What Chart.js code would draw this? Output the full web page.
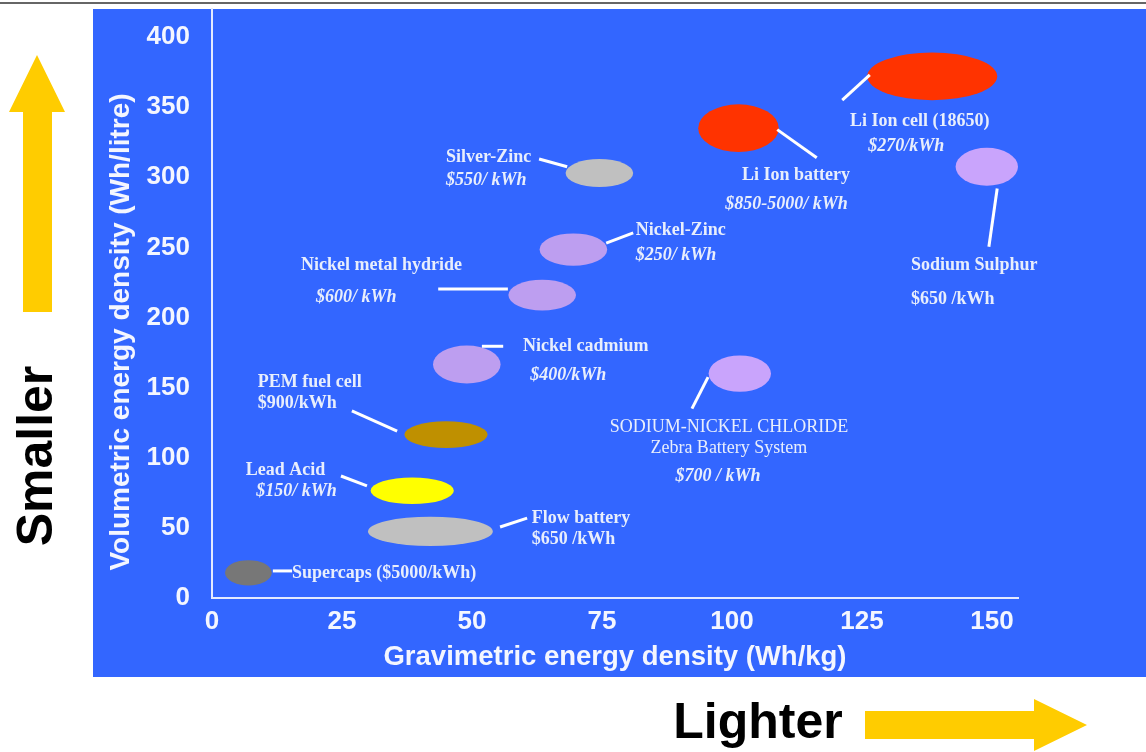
<!DOCTYPE html>
<html lang="en">
<head>
<meta charset="UTF-8">
<title>Energy density of storage technologies</title>
<style>
  html, body { margin: 0; padding: 0; background: #fff; }
</style>
</head>
<body>
<canvas id="densityChart" width="1146" height="752"></canvas>
<script src="https://cdn.jsdelivr.net/npm/chart.js"></script>
<script>
// each technology covers a range of gravimetric (Wh/kg) and volumetric (Wh/litre) density
const technologies = ['Supercaps', 'Flow battery', 'Lead Acid', 'PEM fuel cell', 'Nickel cadmium',
  'Sodium-nickel chloride', 'Nickel metal hydride', 'Nickel-Zinc', 'Silver-Zinc',
  'Li Ion battery', 'Sodium Sulphur', 'Li Ion cell (18650)'];
const gravMin = [2.5, 30, 30.5, 37, 42.5, 95.5, 57, 63, 68, 93.5, 143, 126];
const gravMax = [11.5, 54, 46.5, 53, 55.5, 107.5, 70, 76, 81, 109, 155, 151];
const volMin = [9, 37, 67, 107, 153, 147, 205, 237, 293, 318, 294, 355];
const volMax = [27, 58, 86, 126, 180, 173, 227, 260, 313, 352, 321, 389];
const xTicks = [0, 25, 50, 75, 100, 125, 150];
const yTicks = [0, 50, 100, 150, 200, 250, 300, 350, 400];

const fills = ['#777777', '#c0c0c0', '#ffff00', '#bf9000', '#bd9ef0',
  '#c9a4fc', '#bd9ef0', '#bd9ef0', '#c0c0c0', '#ff3300', '#c9a4fc', '#ff3300'];

// callout text, placed in axis units; s = style (b bold, bi bold italic, r regular)
const notes = [
  { t: 'Li Ion cell (18650)', x: 122.7, y: 340, s: 'b' },
  { t: '$270/kWh', x: 126.2, y: 322, s: 'bi' },
  { t: 'Li Ion battery', x: 101.9, y: 301.5, s: 'b' },
  { t: '$850-5000/ kWh', x: 98.7, y: 281, s: 'bi' },
  { t: 'Sodium Sulphur', x: 134.4, y: 237, s: 'b' },
  { t: '$650 /kWh', x: 134.4, y: 213, s: 'b' },
  { t: 'Silver-Zinc', x: 45, y: 314, s: 'b' },
  { t: '$550/ kWh', x: 45, y: 297.5, s: 'bi' },
  { t: 'Nickel-Zinc', x: 81.5, y: 262.5, s: 'b' },
  { t: '$250/ kWh', x: 81.5, y: 244, s: 'bi' },
  { t: 'Nickel metal hydride', x: 17.1, y: 237, s: 'b' },
  { t: '$600/ kWh', x: 20, y: 214.5, s: 'bi' },
  { t: 'Nickel cadmium', x: 59.8, y: 179.5, s: 'b' },
  { t: '$400/kWh', x: 61.2, y: 158.5, s: 'bi' },
  { t: 'SODIUM-NICKEL CHLORIDE', x: 99.4, y: 122, s: 'r', c: true },
  { t: 'Zebra Battery System', x: 99.4, y: 107, s: 'r', c: true },
  { t: '$700 / kWh', x: 97.3, y: 87, s: 'bi', c: true },
  { t: 'PEM fuel cell', x: 8.8, y: 154, s: 'b' },
  { t: '$900/kWh', x: 8.8, y: 138.5, s: 'b' },
  { t: 'Lead Acid', x: 6.5, y: 91.3, s: 'b' },
  { t: '$150/ kWh', x: 8.5, y: 76.3, s: 'bi' },
  { t: 'Flow battery', x: 61.5, y: 57, s: 'b' },
  { t: '$650 /kWh', x: 61.5, y: 41.5, s: 'b' },
  { t: 'Supercaps ($5000/kWh)', x: 15.4, y: 17.8, s: 'b' }
];

// leader lines from the ellipses to their callouts
const leaders = [
  [121.2, 355, 126.5, 373], [108.7, 334, 116.3, 314], [151, 292, 149.4, 250.5],
  [62.9, 313, 68.3, 307.5], [75.8, 253, 81, 260.3], [43.5, 220.4, 56.9, 220.4],
  [51.9, 179.5, 56, 179.5], [92.3, 135, 95.4, 157.5], [26.9, 133.5, 35.6, 119],
  [24.8, 87, 29.8, 80], [55.4, 50.6, 60.6, 57], [11.7, 19.3, 15.4, 19.3]
];

const fontFor = { b: 'bold 18px "Liberation Serif"', bi: 'italic bold 18px "Liberation Serif"', r: '18px "Liberation Serif"' };

function arrow(ctx, pts) {
  ctx.beginPath();
  ctx.moveTo(pts[0][0], pts[0][1]);
  for (let i = 1; i < pts.length; i++) ctx.lineTo(pts[i][0], pts[i][1]);
  ctx.closePath();
  ctx.fill();
}

// blue panel, the two direction arrows and their words
const backdrop = {
  id: 'backdrop',
  beforeDraw(chart) {
    const { ctx, chartArea, scales } = chart;
    ctx.save();
    ctx.fillStyle = '#ffffff';
    ctx.fillRect(0, 0, chart.width, chart.height);
    ctx.fillStyle = '#3366ff';
    ctx.fillRect(scales.y.left, chartArea.top, chart.width - scales.y.left, scales.x.bottom - chartArea.top);
    ctx.fillStyle = '#666666';
    ctx.fillRect(0, 2, chart.width, 2);

    ctx.fillStyle = '#ffcc00';
    arrow(ctx, [[37, 55], [65, 112], [52, 112], [52, 312], [23, 312], [23, 112], [9, 112]]);
    arrow(ctx, [[865, 711], [1034, 711], [1034, 699], [1087, 725], [1034, 751], [1034, 739], [865, 739]]);

    ctx.fillStyle = '#000000';
    ctx.font = 'bold 50px "Liberation Sans"';
    ctx.textBaseline = 'middle';
    ctx.textAlign = 'center';
    ctx.fillText('Lighter', 758, 724);
    ctx.save();
    ctx.translate(38, 456);
    ctx.rotate(-Math.PI / 2);
    ctx.fillText('Smaller', 0, 0);
    ctx.restore();

    // y axis title sits a little above the middle of the axis
    ctx.fillStyle = '#f4f6ff';
    ctx.font = 'bold 28px "Liberation Sans"';
    ctx.translate(scales.y.left + 28, 332);
    ctx.rotate(-Math.PI / 2);
    ctx.fillText('Volumetric energy density (Wh/litre)', 0, 0);
    ctx.restore();
  }
};

// ellipses spanning each density range, then leader lines and callouts
const ranges = {
  id: 'ranges',
  afterDatasetsDraw(chart) {
    const { ctx, scales: { x, y } } = chart;
    const pts = chart.data.datasets[0].data;
    ctx.save();
    pts.forEach((p, i) => {
      const x0 = x.getPixelForValue(p.xMin), x1 = x.getPixelForValue(p.xMax);
      const y0 = y.getPixelForValue(p.yMin), y1 = y.getPixelForValue(p.yMax);
      ctx.beginPath();
      ctx.ellipse((x0 + x1) / 2, (y0 + y1) / 2, Math.abs(x1 - x0) / 2, Math.abs(y1 - y0) / 2, 0, 0, Math.PI * 2);
      ctx.fillStyle = fills[i];
      ctx.fill();
    });

    ctx.strokeStyle = '#ffffff';
    ctx.lineWidth = 3;
    leaders.forEach(l => {
      ctx.beginPath();
      ctx.moveTo(x.getPixelForValue(l[0]), y.getPixelForValue(l[1]));
      ctx.lineTo(x.getPixelForValue(l[2]), y.getPixelForValue(l[3]));
      ctx.stroke();
    });

    ctx.fillStyle = '#e8eefc';
    ctx.textBaseline = 'middle';
    notes.forEach(n => {
      ctx.font = fontFor[n.s];
      ctx.textAlign = n.c ? 'center' : 'left';
      ctx.fillText(n.t, x.getPixelForValue(n.x), y.getPixelForValue(n.y));
    });
    ctx.restore();
  }
};

const axisFont = { family: 'Liberation Sans', weight: 'bold', size: 26 };

new Chart(document.getElementById('densityChart'), {
  type: 'scatter',
  data: {
    datasets: [{
      label: 'Energy density',
      data: technologies.map((name, i) => ({
        x: (gravMin[i] + gravMax[i]) / 2,
        y: (volMin[i] + volMax[i]) / 2,
        xMin: gravMin[i], xMax: gravMax[i], yMin: volMin[i], yMax: volMax[i], name
      })),
      pointRadius: 0,
      pointHoverRadius: 0
    }]
  },
  options: {
    responsive: false,
    animation: false,
    layout: { padding: { left: 93, right: 128, top: 9, bottom: 75 } },
    plugins: { legend: { display: false }, tooltip: { enabled: false } },
    scales: {
      x: {
        type: 'linear', min: 0, max: 155,
        afterBuildTicks: s => { s.ticks = xTicks.map(v => ({ value: v })); },
        afterFit: s => { s.height = 79; s.paddingLeft = 0; s.paddingRight = 0; },
        grid: { display: false, drawTicks: false },
        border: { display: true, color: '#e4eaff', width: 2 },
        ticks: { color: '#f4f6ff', font: axisFont, padding: 8, maxRotation: 0 },
        title: { display: true, text: 'Gravimetric energy density (Wh/kg)', color: '#f4f6ff',
          font: { family: 'Liberation Sans', weight: 'bold', size: 27.5 }, padding: { top: 0, bottom: 3 } }
      },
      y: {
        type: 'linear', min: 0, max: 420,
        afterBuildTicks: s => { s.ticks = yTicks.map(v => ({ value: v })); },
        afterFit: s => { s.width = 119; s.paddingTop = 0; s.paddingBottom = 0; },
        grid: { display: false, drawTicks: false },
        border: { display: true, color: '#e4eaff', width: 2 },
        ticks: { color: '#f4f6ff', font: axisFont, padding: 22 },
        title: { display: false }
      }
    }
  },
  plugins: [backdrop, ranges]
});
</script>
</body>
</html>
